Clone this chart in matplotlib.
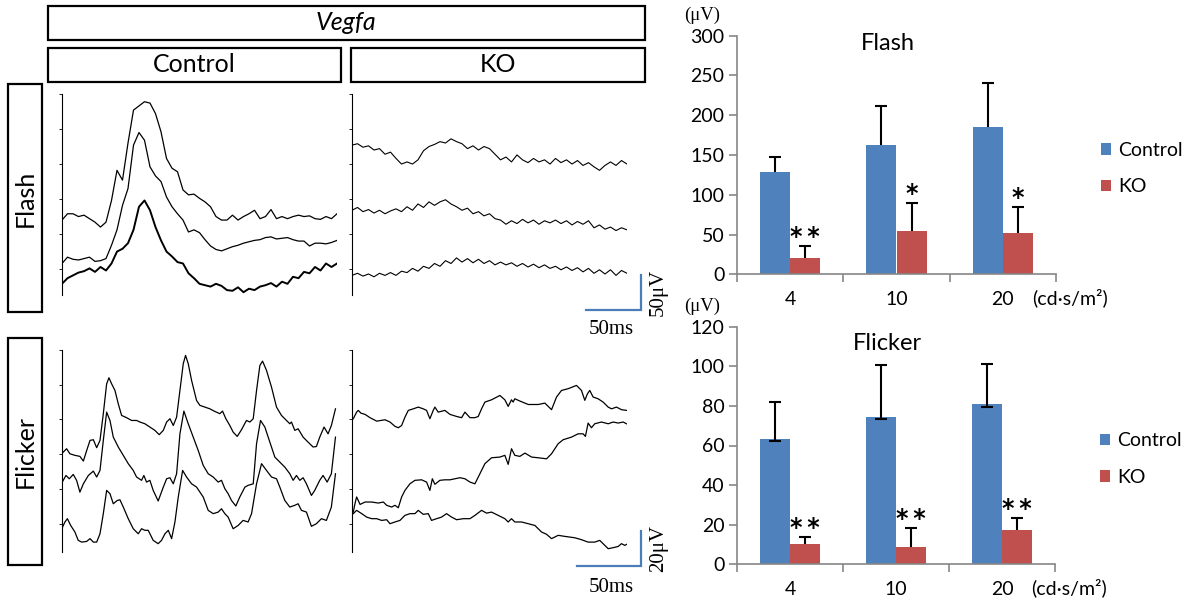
import matplotlib.pyplot as plt
import numpy as np
from matplotlib.patches import Rectangle

plt.rcParams['font.family'] = ['Lato', 'DejaVu Sans']
SERIF = ['Liberation Serif', 'DejaVu Serif']

# ---------------- bar chart data (uV) ----------------
intensity = ['4', '10', '20']
groups = ['Control', 'KO']

flash_ctrl = [128, 162, 185]
flash_ctrl_err = [19, 49, 56]
flash_ko = [20, 55, 52]
flash_ko_err = [15, 35, 33]
flash_sig = ['*\u2009*', '*', '*']

flicker_ctrl = [63.1, 74.2, 80.8]
flicker_ctrl_err_lo = [0.8, 0.8, 1.2]
flicker_ctrl_err = [18.7, 26.5, 20.5]
flicker_ko = [10.1, 8.9, 17.3]
flicker_ko_err = [3.7, 9.3, 6.1]
flicker_sig = ['*\u2009*', '*\u2009*', '*\u2009*']

# ---------------- ERG traces ----------------
# flash: one sample every 5 ms, 0..250 ms (uV)
flash_t = list(range(0, 255, 5))
flash_ctrl_1 = [70, 79, 79, 75, 77, 72, 67, 60, 67, 98, 141, 127, 180, 227, 233, 239, 237, 222, 196, 158,
                144, 139, 113, 106, 107, 101, 96, 89, 75, 70, 70, 77, 70, 75, 79, 84, 72, 75, 85, 72,
                75, 72, 75, 77, 75, 76, 72, 71, 75, 72, 79]
flash_ctrl_2 = [8, 17, 14, 13, 15, 17, 11, 12, 15, 34, 56, 91, 115, 177, 195, 184, 146, 133, 125, 103,
                89, 79, 70, 53, 56, 52, 42, 33, 28, 26, 29, 32, 34, 37, 39, 41, 42, 45, 46, 43,
                44, 45, 42, 40, 40, 33, 37, 37, 36, 38, 41]
flash_ctrl_3 = [-21, -13, -9, -5, -3, 1, -4, 3, -2, 8, 25, 29, 37, 56, 89, 98, 84, 60, 41, 25,
                18, 10, 8, -6, -13, -21, -23, -25, -21, -24, -30, -31, -26, -33, -28, -30, -25, -23, -20, -25,
                -18, -21, -11, -13, -4, -6, 3, -2, 8, 3, 8]
flash_ko_1 = [177, 179, 174, 176, 170, 172, 164, 167, 158, 150, 153, 150, 156, 169, 175, 178, 182, 180, 186, 182,
              179, 172, 176, 170, 175, 172, 164, 156, 160, 153, 163, 156, 152, 158, 153, 156, 150, 158, 152, 156,
              150, 155, 148, 152, 146, 141, 148, 153, 148, 155, 150]
flash_ko_2 = [84, 88, 82, 85, 80, 84, 79, 83, 86, 82, 89, 84, 93, 88, 96, 91, 96, 99, 93, 89,
              84, 87, 79, 82, 76, 79, 72, 70, 64, 69, 65, 71, 66, 70, 64, 69, 66, 70, 65, 69,
              63, 68, 64, 69, 59, 63, 57, 60, 55, 59, 56]
flash_ko_3 = [-9, -6, -10, -7, -11, -6, -9, -5, -9, -3, -5, 1, -3, 4, 1, 8, 4, 12, 8, 16,
              10, 15, 9, 14, 8, 12, 6, 10, 6, 9, 4, 8, 3, 7, 2, 6, 1, 4, -1, 3,
              -2, 2, -4, 1, -6, -1, -7, -1, -9, -2, -6]

# flicker: (ms, uV) points
flk_ctrl_1_t = [0.2, 3.6, 6.2, 10.1, 14.0, 16.7, 19.3, 21.9, 24.5, 27.1, 29.7, 32.3, 34.9, 36.7, 38.8, 41.4,
                44.0, 46.6, 50.5, 54.4, 58.3, 60.9, 64.8, 68.7, 72.6, 76.0, 79.2, 81.8, 84.4, 87.0, 89.6, 92.2,
                94.8, 96.6, 98.7, 101.3, 105.2, 107.8, 111.7, 115.6, 119.5, 123.4, 125.5, 128.1, 131.2, 133.8,
                137.0, 140.3, 144.2, 146.9, 149.5, 152.1, 154.7, 156.8, 159.9, 163.8, 167.7, 171.6, 175.5, 178.1,
                179.4, 182.0, 184.6, 188.5, 192.4, 196.3, 198.9, 201.5, 204.9, 208.0, 210.6, 213.8]
flk_ctrl_1_v = [40.6, 43.1, 40.2, 39.3, 38.7, 36.0, 42.1, 47.9, 48.3, 43.7, 47.9, 63.3, 80.5, 84.0, 80.5, 76.7,
                69.0, 62.3, 61.0, 59.4, 59.4, 58.5, 57.5, 55.6, 53.7, 51.2, 53.7, 58.5, 60.4, 56.5, 61.3, 76.7,
                92.1, 96.9, 92.1, 82.5, 70.9, 68.1, 67.1, 66.1, 64.6, 63.3, 64.8, 60.4, 56.5, 52.7,
                50.2, 54.0, 59.4, 58.5, 60.4, 76.7, 91.1, 93.6, 88.2, 78.6, 67.1, 62.3, 59.4, 57.5,
                58.5, 53.7, 54.6, 49.8, 46.9, 44.1, 44.4, 49.8, 55.6, 51.7, 56.5, 66.1]
flk_ctrl_2_t = [0.2, 3.1, 5.7, 8.8, 11.4, 14.0, 16.7, 20.6, 24.5, 27.1, 29.7, 32.3, 34.9, 37.5, 40.1, 44.0,
                47.9, 51.8, 55.7, 58.3, 62.2, 64.0, 66.1, 68.7, 71.3, 75.2, 79.2, 81.8, 84.4, 87.0, 89.6, 92.2,
                95.3, 98.7, 102.6, 106.5, 110.4, 114.3, 118.2, 122.1, 124.7, 127.3, 129.9, 132.5, 135.9, 139.0,
                143.0, 145.5, 149.5, 152.1, 155.2, 158.6, 162.5, 166.4, 170.3, 174.2, 178.1, 180.7, 183.3, 185.9,
                188.5, 191.1, 195.0, 197.6, 201.5, 204.1, 207.3, 210.6, 213.8]
flk_ctrl_2_v = [23.9, 27.7, 25.8, 28.3, 24.9, 18.1, 22.9, 27.7, 30.2, 26.8, 30.6, 47.9, 64.2, 59.4, 49.8, 44.1,
                39.3, 34.5, 30.6, 26.8, 24.9, 27.7, 23.9, 24.9, 19.1, 13.0, 21.0, 25.8, 26.4, 22.9, 28.7, 51.7,
                64.8, 57.5, 49.8, 42.1, 33.5, 28.7, 26.8, 23.9, 24.9, 20.1, 17.2, 13.3, 10.1, 15.3,
                21.0, 22.0, 22.9, 46.0, 59.4, 55.6, 46.9, 38.3, 35.4, 32.5, 28.7, 24.9, 27.7, 24.9,
                26.4, 22.9, 16.2, 19.1, 24.9, 27.7, 23.9, 28.7, 49.8]
flk_ctrl_3_t = [0.2, 2.3, 4.2, 6.8, 10.1, 12.7, 15.4, 19.3, 21.9, 24.5, 27.1, 29.7, 32.3, 34.9, 37.5, 40.1,
                43.2, 45.3, 47.9, 51.8, 55.7, 59.6, 62.2, 64.8, 67.4, 71.3, 75.2, 77.8, 80.5, 83.1, 85.7, 88.3,
                90.9, 94.3, 97.4, 101.3, 105.2, 110.4, 114.3, 118.2, 122.1, 124.7, 127.3, 129.9, 133.8, 137.7,
                141.6, 145.5, 148.2, 152.1, 156.0, 159.9, 163.8, 167.7, 170.3, 174.2, 178.1, 182.0, 184.6, 187.2,
                191.1, 195.0, 198.9, 202.8, 206.7, 210.6, 213.8]
flk_ctrl_3_v = [-2.4, 0.9, 2.8, -1.1, -4.9, -9.7, -10.7, -10.3, -8.7, -10.7, -10.7, -5.9, 5.7, 19.1, 17.2, 11.4,
                13.3, 13.7, 9.5, 2.8, -3.0, -5.9, -3.0, -3.9, -3.9, -9.7, -11.6, -9.7, -5.9, -3.9, -8.7, 0.9,
                15.3, 30.6, 26.8, 22.9, 21.0, 15.3, 7.6, 5.7, 6.6, 8.5, 5.7, 3.7, -3.0, -1.1,
                1.8, 0.9, 5.7, 22.9, 34.5, 30.6, 26.8, 25.8, 21.0, 13.3, 9.5, 10.5, 11.4, 7.6,
                6.6, -1.6, -0.1, 2.8, 1.8, 9.5, 28.7]
flk_ko_1_t = [1.0, 3.6, 4.9, 7.0, 10.2, 14.1, 19.3, 25.8, 29.7, 33.6, 36.2, 38.8, 41.4, 44.0, 47.9, 51.8,
              55.7, 58.3, 60.9, 63.5, 64.8, 67.4, 72.6, 76.6, 81.8, 85.7, 88.3, 92.2, 96.1, 98.7,
              101.3, 103.9, 109.1, 115.6, 119.5, 122.1, 124.7, 126.0, 127.3, 131.2, 137.8, 145.6, 150.8, 156.0,
              159.9, 163.8, 169.0, 175.5, 179.4, 182.0, 184.1, 185.9, 188.5, 192.4, 196.3, 200.3, 202.9, 206.8,
              210.7, 214.6]
flk_ko_1_v = [60.4, 64.2, 65.2, 63.6, 62.9, 61.0, 59.0, 59.8, 58.5, 56.0, 55.2, 56.5, 61.3, 65.2, 66.1, 67.1,
              66.1, 65.2, 60.4, 65.2, 67.1, 64.2, 65.2, 62.9, 61.7, 61.0, 64.2, 61.0, 61.0, 61.7,
              66.1, 70.0, 71.3, 73.8, 71.3, 67.5, 71.3, 70.0, 71.9, 70.6, 68.6, 68.6, 69.4, 65.6,
              72.9, 76.7, 77.7, 79.6, 76.7, 71.0, 74.8, 76.7, 72.9, 71.9, 70.0, 67.1, 66.1, 67.1,
              65.6, 65.2]
flk_ko_2_t = [1.0, 2.3, 3.6, 4.9, 6.3, 10.2, 15.4, 20.6, 24.5, 27.1, 31.0, 33.6, 36.2, 38.8, 41.4, 45.3,
              49.2, 54.4, 58.3, 60.9, 62.8, 64.8, 68.7, 72.6, 76.6, 80.5, 84.4, 88.3, 92.2, 96.1,
              100.0, 103.9, 109.1, 115.6, 119.5, 122.1, 124.7, 127.3, 131.2, 135.2, 140.4, 145.6, 152.1, 156.0,
              161.2, 165.1, 171.6, 176.8, 180.7, 182.5, 184.6, 187.2, 189.8, 195.0, 200.3, 204.2, 208.1, 212.0,
              214.6]
flk_ko_2_v = [6.6, 11.4, 15.3, 13.3, 11.0, 12.4, 12.4, 11.8, 12.4, 10.5, 9.5, 10.5, 9.1, 15.3, 19.1, 22.9,
              24.9, 25.2, 23.9, 19.1, 25.8, 22.6, 24.9, 25.2, 25.2, 25.8, 26.4, 25.8, 23.9, 22.9,
              28.7, 34.5, 37.9, 38.3, 39.3, 34.1, 43.1, 39.3, 38.7, 40.6, 38.3, 37.9, 37.3, 40.2,
              46.0, 48.3, 49.8, 51.7, 51.7, 50.2, 57.9, 55.2, 57.5, 58.5, 57.5, 58.5, 57.9, 58.5,
              57.5]
flk_ko_3_t = [1.0, 3.6, 7.6, 11.5, 15.4, 19.3, 23.2, 27.1, 29.7, 33.6, 37.5, 41.4, 45.3, 49.2, 51.8, 55.7,
              59.6, 62.2, 66.1, 70.0, 73.9, 77.9, 81.8, 87.0, 92.2, 96.1, 101.3, 105.2, 109.1, 114.3,
              119.5, 122.1, 124.7, 127.3, 132.5, 137.8, 143.0, 148.2, 152.1, 156.0, 161.2, 166.4, 174.2, 179.4,
              184.6, 189.8, 193.7, 196.3, 200.3, 204.2, 208.1, 210.7, 213.3, 214.6]
flk_ko_3_v = [5.7, 7.6, 5.7, 3.7, 2.8, 2.8, 1.8, 2.2, -0.1, 0.9, 1.8, 4.7, 5.7, 5.7, 7.6, 5.3,
              5.7, 1.8, 2.8, 3.7, 5.7, 3.7, 2.2, 2.8, 2.8, 4.7, 7.6, 6.0, 6.6, 4.7,
              2.8, 0.9, 2.8, 0.9, 0.9, -0.1, -1.1, -4.9, -6.2, -8.7, -6.8, -7.4, -8.2, -9.3,
              -10.7, -10.7, -9.7, -11.6, -14.5, -13.9, -13.2, -11.6, -12.6, -12.0]

# scale bars (ms, uV)
flash_scale = (50, 50)
flicker_scale = (50, 20)

BLUE = '#4F81BD'
RED = '#C0504D'
BAR_BLUE = '#4A7EBB'
GRAY = '#868686'

W, H = 1189, 605
fig = plt.figure(figsize=(W / 100, H / 100), dpi=100)


def px_axes(x0, y0, x1, y1):
    return fig.add_axes([x0 / W, 1 - y1 / H, (x1 - x0) / W, (y1 - y0) / H])


# frame boxes and labels on a pixel overlay
ov = fig.add_axes([0, 0, 1, 1], zorder=-1)
ov.set_xlim(0, W)
ov.set_ylim(H, 0)
ov.axis('off')
for x0, y0, x1, y1 in [(48, 6, 645, 40), (48, 48, 341, 82), (351, 48, 645, 82),
                       (8, 84, 42, 312), (8, 338, 42, 565)]:
    ov.add_patch(Rectangle((x0, y0), x1 - x0, y1 - y0, fill=False, ec='black', lw=1.6))
ov.text(346, 23, 'Vegfa', style='italic', fontsize=18, ha='center', va='center')
ov.text(194, 65, 'Control', fontsize=18, ha='center', va='center')
ov.text(498, 65, 'KO', fontsize=18, ha='center', va='center')
ov.text(25, 198, 'Flash', fontsize=18, rotation=90, ha='center', va='center')
ov.text(25, 452, 'Flicker', fontsize=18, rotation=90, ha='center', va='center')
ov.text(611, 330, '50ms', family=SERIF, fontsize=15, ha='center', va='center')
ov.text(658, 292, '50\u03bcV', family=SERIF, fontsize=15, rotation=90, ha='center', va='center')
ov.text(611, 588, '50ms', family=SERIF, fontsize=15, ha='center', va='center')
ov.text(659, 548, '20\u03bcV', family=SERIF, fontsize=15, rotation=90, ha='center', va='center')


def trace_axes(box, xmax, ylim, step, traces, widths):
    ax = px_axes(*box)
    for (t, v), lw in zip(traces, widths):
        ax.plot(t, v, color='black', lw=lw)
    ax.set_xlim(0, xmax)
    ax.set_ylim(*ylim)
    for s in ['top', 'right', 'bottom']:
        ax.spines[s].set_visible(False)
    ax.spines['left'].set_linewidth(0.8)
    ax.set_yticks(np.arange(0, ylim[1] + 0.1, step))
    ax.set_yticklabels([])
    ax.set_xticks([])
    ax.tick_params(axis='y', length=2, width=0.6)
    ax.patch.set_alpha(0)
    return ax


flash_ylim = (-37, 250)
flicker_ylim = (-16.4, 100)
trace_axes((62, 94, 337, 295), 250, flash_ylim, 50,
           [(flash_t, flash_ctrl_1), (flash_t, flash_ctrl_2), (flash_t, flash_ctrl_3)], [0.9, 0.9, 1.4])
ax_fk = trace_axes((352, 94, 627, 295), 250, flash_ylim, 50,
                   [(flash_t, flash_ko_1), (flash_t, flash_ko_2), (flash_t, flash_ko_3)], [0.8, 0.8, 0.8])
trace_axes((62, 350, 337, 552), 215, flicker_ylim, 20,
           [(flk_ctrl_1_t, flk_ctrl_1_v), (flk_ctrl_2_t, flk_ctrl_2_v), (flk_ctrl_3_t, flk_ctrl_3_v)],
           [0.9, 0.9, 0.9])
ax_kk = trace_axes((352, 350, 627, 552), 215, flicker_ylim, 20,
                   [(flk_ko_1_t, flk_ko_1_v), (flk_ko_2_t, flk_ko_2_v), (flk_ko_3_t, flk_ko_3_v)],
                   [0.9, 0.9, 0.9])

# L-shaped scale bars, in each KO panel's own data units
for ax, (dt, dv), t_end, v_low in [(ax_fk, flash_scale, 262.7, -58.4), (ax_kk, flicker_scale, 226, -24.5)]:
    ax.plot([t_end - dt, t_end, t_end], [v_low, v_low, v_low + dv], color=BAR_BLUE, lw=1.6,
            clip_on=False, solid_joinstyle='miter')


def err_bars(ax, xs, ys, lo, hi):
    # Excel style: stem + cap on top, lower cap only where a minus error exists
    for xi, yi, l, h in zip(xs, ys, lo, hi):
        ax.plot([xi, xi], [yi - l, yi + h], color='black', lw=1.5, zorder=3, solid_capstyle='butt')
        ax.plot([xi], [yi + h], marker='_', ms=8, mew=1.5, color='black', zorder=3)
        if l > 0:
            ax.plot([xi], [yi - l], marker='_', ms=8, mew=1.5, color='black', zorder=3)


def bar_panel(box, ctrl, ctrl_lo, ctrl_err, ko, ko_err, sig, ymax, ystep, title, title_y):
    ax = px_axes(*box)
    x = np.arange(len(intensity))
    w = 0.283
    b1 = ax.bar(x - w / 2, ctrl, w, color=BLUE, label=groups[0], zorder=2)
    b2 = ax.bar(x + w / 2, ko, w, color=RED, label=groups[1], zorder=2)
    err_bars(ax, x - w / 2, ctrl, ctrl_lo, ctrl_err)
    err_bars(ax, x + w / 2, ko, [0] * len(ko), ko_err)
    for xi, yi, ei, s in zip(x + w / 2, ko, ko_err, sig):
        ax.annotate(s, (xi, yi + ei), xytext=(0, 1.5), textcoords='offset points',
                    ha='center', va='baseline', fontsize=17, fontweight='bold',
                    family=['DejaVu Sans'])
    ax.set_xlim(-0.5, len(intensity) - 0.5)
    ax.set_ylim(0, ymax)
    ax.set_yticks(np.arange(0, ymax + 1, ystep))
    ax.set_xticks(x)
    ax.set_xticklabels(intensity)
    ax.set_xticks(np.arange(-0.5, len(intensity)), minor=True)
    ax.tick_params(axis='x', which='major', length=0, pad=12, labelsize=14)
    ax.tick_params(axis='x', which='minor', length=6, width=1.2, color=GRAY, direction='out')
    ax.tick_params(axis='y', length=6, width=1.2, color=GRAY, labelsize=14, pad=3)
    for s in ['top', 'right']:
        ax.spines[s].set_visible(False)
    for s in ['left', 'bottom']:
        ax.spines[s].set_color(GRAY)
        ax.spines[s].set_linewidth(1.2)
    ax.text(0.473, title_y, title, transform=ax.transAxes, ha='center', va='center', fontsize=17)
    ax.text(-0.11, 1.085, '(\u03bcV)', transform=ax.transAxes, ha='center', va='center',
            fontsize=13.5, family=SERIF)
    ax.text(1.045, -0.10, '(cd\u00b7s/m\u00b2)', transform=ax.transAxes, ha='center', va='center',
            fontsize=14)
    ax.legend(handles=[b1, b2], loc='center left', bbox_to_anchor=(1.14, 0.443), frameon=False,
              fontsize=14, handlelength=0.55, handleheight=0.55, handletextpad=0.35,
              labelspacing=1.0, borderpad=0, borderaxespad=0)
    return ax


bar_panel((737, 35.7, 1056, 274.3), flash_ctrl, [0, 0, 0], flash_ctrl_err, flash_ko, flash_ko_err,
          flash_sig, 300, 50, 'Flash', 0.969)
bar_panel((737, 326.7, 1055, 564.3), flicker_ctrl, flicker_ctrl_err_lo, flicker_ctrl_err, flicker_ko,
          flicker_ko_err, flicker_sig, 120, 20, 'Flicker', 0.931)

fig.savefig('out.png', dpi=100)
